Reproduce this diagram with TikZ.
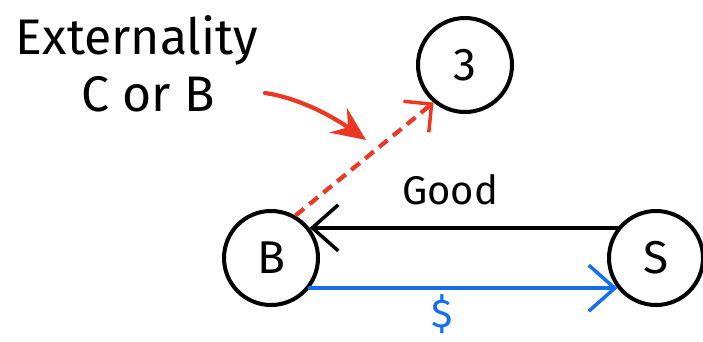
\documentclass[tikz,border=0pt]{standalone}
\usepackage{fontspec}
\setmainfont{Fira Sans}
\usetikzlibrary{arrows.meta}
\definecolor{hred}{RGB}{235,55,35}
\definecolor{hblue}{RGB}{20,110,240}
\tikzset{
  party/.style={circle, draw=black, line width=4pt, minimum size=94pt, inner sep=0pt, font=\fontsize{46}{50}\selectfont},
  lbl/.style={inner sep=0pt, font=\fontsize{40}{44}\selectfont},
  biglbl/.style={inner sep=0pt, font=\fontsize{50}{54}\selectfont},
  flow/.style={line width=4.2pt, line cap=round},
  barb/.style={-{Straight Barb[length=26pt,width=46pt,line width=3.5pt]}},
  redtip/.style={-{Stealth[length=34pt,width=30pt,inset=12pt]}},
  redbarb/.style={-{Straight Barb[length=20pt,width=40pt,line width=3.5pt]}}
}
\begin{document}
\begin{tikzpicture}[x=1pt,y=-1pt]
\useasboundingbox (0,0) rectangle (703,341);
\node[party] (three) at (465,65) {3};
\node[party] (B) at (271,258) {B};
\node[party] (S) at (656,258) {S};
\node[biglbl] (ext) at (137,40) {Externality};
\node[biglbl] (cb) at (148,94) {C or B};
\node[lbl] (good) at (450,190) {Good};
\node[lbl, text=hblue] (dollar) at (442,314) {\$};
\coordinate (cs) at (265,93);
\coordinate (ce) at (366,140);
\draw[flow, barb] (S.142) -- (B.38);
\draw[flow, hblue, barb] (B.-38) -- (S.-142);
\draw[flow, hred, dash pattern=on 11pt off 7pt, line cap=butt, redbarb] (B.60) -- (three.230);
\draw[flow, hred, redtip] (cs) .. controls (300,98) and (335,118) .. (ce);
\end{tikzpicture}
\end{document}
